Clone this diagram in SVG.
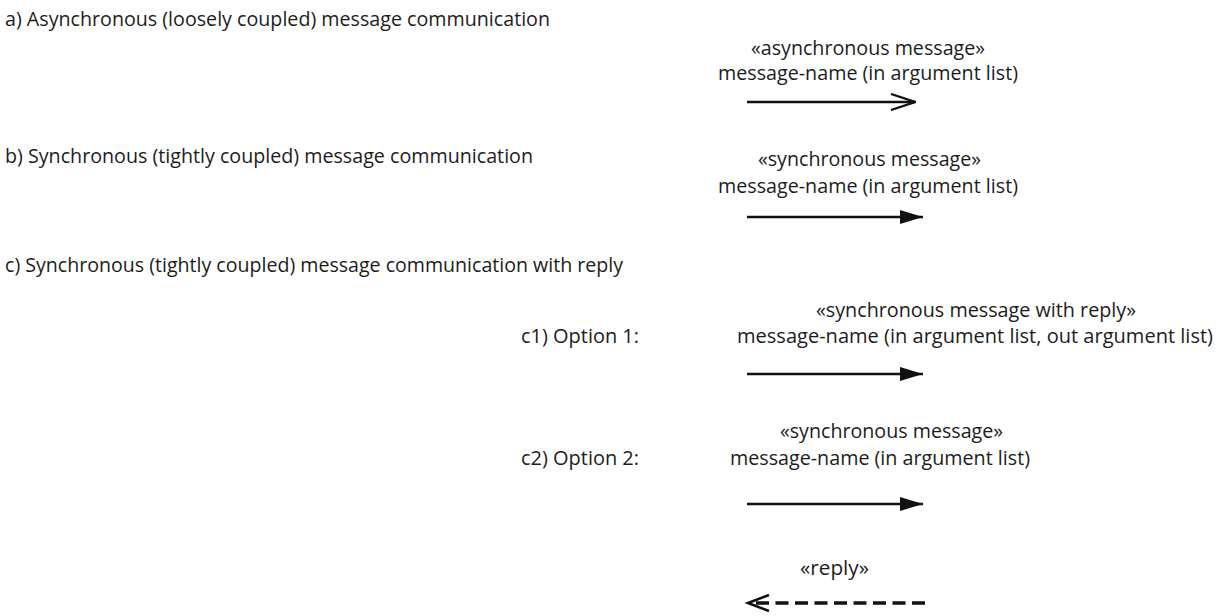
<svg xmlns="http://www.w3.org/2000/svg" width="1226" height="616" viewBox="0 0 1226 616">
  <defs>
    <style>
      text { font-family: "Open Sans", "Liberation Sans", sans-serif; font-size: 19.5px; fill: #1c1c1c; }
      .msg { stroke: #111; stroke-width: 2.3; fill: none; }
      .reply { stroke: #111; stroke-width: 3.5; fill: none; stroke-dasharray: 13 6.5; }
    </style>
    <marker id="open" viewBox="0 0 26 18" refX="25" refY="9" markerWidth="26" markerHeight="18" markerUnits="userSpaceOnUse" orient="auto">
      <path d="M1,1 L25,9 L1,17" fill="none" stroke="#111" stroke-width="2.3"/>
    </marker>
    <marker id="filled" viewBox="0 0 23 14" refX="23" refY="7" markerWidth="23" markerHeight="14" markerUnits="userSpaceOnUse" orient="auto">
      <path d="M0,0 L23,7 L0,14 Z" fill="#111"/>
    </marker>
  </defs>

  <!-- section headings -->
  <g id="headings">
    <text x="5" y="26" textLength="545" lengthAdjust="spacingAndGlyphs">a) Asynchronous (loosely coupled) message communication</text>
    <text x="5" y="163" textLength="528" lengthAdjust="spacingAndGlyphs">b) Synchronous (tightly coupled) message communication</text>
    <text x="5" y="272" textLength="618" lengthAdjust="spacingAndGlyphs">c) Synchronous (tightly coupled) message communication with reply</text>
    <text x="521" y="343" textLength="118" lengthAdjust="spacingAndGlyphs">c1) Option 1:</text>
    <text x="521" y="465" textLength="118" lengthAdjust="spacingAndGlyphs">c2) Option 2:</text>
  </g>

  <!-- message labels -->
  <g id="label-async">
    <text x="751" y="55" textLength="234" lengthAdjust="spacingAndGlyphs">«asynchronous message»</text>
    <text x="718" y="80" textLength="300" lengthAdjust="spacingAndGlyphs">message-name (in argument list)</text>
  </g>
  <g id="label-sync">
    <text x="758" y="166" textLength="223" lengthAdjust="spacingAndGlyphs">«synchronous message»</text>
    <text x="718" y="193" textLength="300" lengthAdjust="spacingAndGlyphs">message-name (in argument list)</text>
  </g>
  <g id="label-sync-reply">
    <text x="816" y="317" textLength="320" lengthAdjust="spacingAndGlyphs">«synchronous message with reply»</text>
    <text x="737" y="343" textLength="476" lengthAdjust="spacingAndGlyphs">message-name (in argument list, out argument list)</text>
  </g>
  <g id="label-sync-2">
    <text x="780" y="438" textLength="223" lengthAdjust="spacingAndGlyphs">«synchronous message»</text>
    <text x="730" y="465" textLength="300" lengthAdjust="spacingAndGlyphs">message-name (in argument list)</text>
  </g>
  <g id="label-reply">
    <text x="800" y="575" textLength="69" lengthAdjust="spacingAndGlyphs">«reply»</text>
  </g>

  <!-- connectors -->
  <g id="connectors">
    <line class="msg" x1="747" y1="102" x2="915" y2="102" marker-end="url(#open)"/>
    <line class="msg" x1="747" y1="217" x2="923" y2="217" marker-end="url(#filled)"/>
    <line class="msg" x1="747" y1="374" x2="923" y2="374" marker-end="url(#filled)"/>
    <line class="msg" x1="747" y1="504" x2="923" y2="504" marker-end="url(#filled)"/>
    <line class="reply" x1="925" y1="603" x2="751" y2="603"/>
    <path d="M769,595 L748,603 L769,611" fill="none" stroke="#111" stroke-width="2.6"/>
  </g>
</svg>
